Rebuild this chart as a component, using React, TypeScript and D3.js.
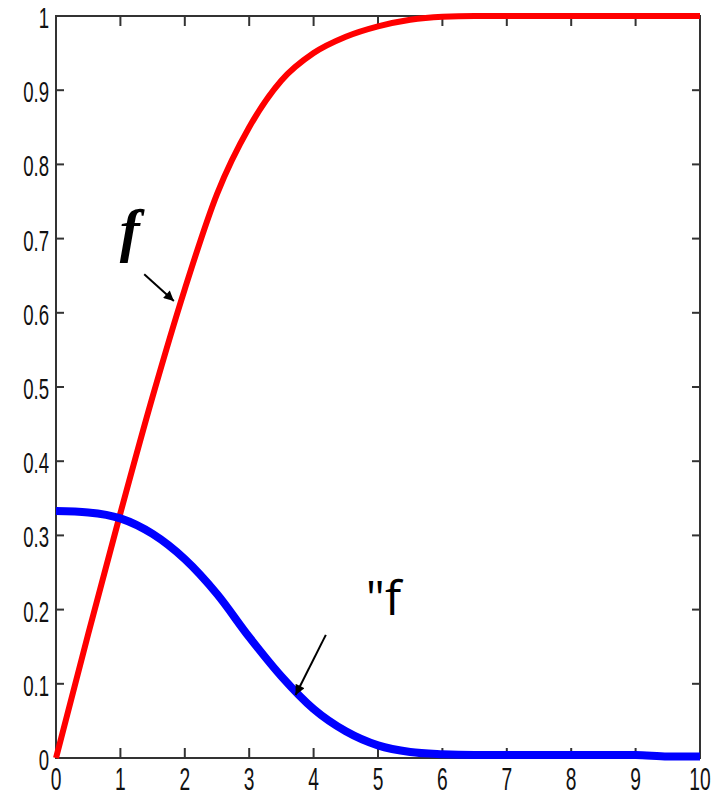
import * as d3 from "d3";

// values
const xs = [0, 0.5, 1, 1.5, 2, 2.5, 3, 3.5, 4, 4.5, 5, 5.5, 6, 6.5, 7, 8, 9, 9.5, 10];
const fValues = [0, 0.167, 0.33, 0.487, 0.632, 0.76, 0.85, 0.913, 0.95, 0.972, 0.986, 0.995, 0.999, 1, 1, 1, 1, 1, 1];
const fppValues = [0.333, 0.331, 0.323, 0.302, 0.268, 0.221, 0.163, 0.11, 0.066, 0.036, 0.017, 0.008, 0.005, 0.004, 0.004, 0.004, 0.004, 0.002, 0.002];

const xTicks = [0, 1, 2, 3, 4, 5, 6, 7, 8, 9, 10];
const yTicks = [0, 0.1, 0.2, 0.3, 0.4, 0.5, 0.6, 0.7, 0.8, 0.9, 1];

const width = 721;
const height = 796;
const left = 56;
const right = 700;
const top = 16;
const bottom = 758;

export default function App() {
  const x = d3.scaleLinear().domain([0, 10]).range([left, right]);
  const y = d3.scaleLinear().domain([0, 1]).range([bottom, top]);

  const line = d3
    .line<number>()
    .x((_, i) => x(xs[i]))
    .y((d) => y(d))
    .curve(d3.curveMonotoneX);

  const labelFont = "'Liberation Sans', Arial, sans-serif";
  const squeeze = 0.62;

  return (
    <svg
      width={width}
      height={height}
      style={{ position: "absolute", left: 0, top: 0, background: "#fff" }}
    >
      <defs>
        <marker
          id="head"
          viewBox="0 0 10 10"
          refX="10"
          refY="5"
          markerWidth="12"
          markerHeight="10"
          markerUnits="userSpaceOnUse"
          orient="auto"
        >
          <path d="M0,0 L10,5 L0,10 z" fill="#000" />
        </marker>
      </defs>

      {/* box */}
      <rect
        x={left}
        y={top}
        width={right - left}
        height={bottom - top}
        fill="none"
        stroke="#333"
        strokeWidth={2}
      />

      {/* x ticks, top and bottom, pointing in */}
      {xTicks.map((t) => (
        <g key={"x" + t}>
          <line x1={x(t)} x2={x(t)} y1={bottom} y2={bottom - 10} stroke="#333" strokeWidth={2} />
          <line x1={x(t)} x2={x(t)} y1={top} y2={top + 10} stroke="#333" strokeWidth={2} />
          <text
            transform={`translate(${x(t)},${bottom + 32}) scale(${squeeze},1)`}
            textAnchor="middle"
            fontFamily={labelFont}
            fontSize={31}
            fill="#111"
          >
            {t}
          </text>
        </g>
      ))}

      {/* y ticks, left and right */}
      {yTicks.map((t) => (
        <g key={"y" + t}>
          <line x1={left} x2={left + 8} y1={y(t)} y2={y(t)} stroke="#333" strokeWidth={2} />
          <line x1={right} x2={right - 8} y1={y(t)} y2={y(t)} stroke="#333" strokeWidth={2} />
          <text
            transform={`translate(${left - 7},${y(t) + 12}) scale(${squeeze},1)`}
            textAnchor="end"
            fontFamily={labelFont}
            fontSize={30}
            fill="#111"
          >
            {t}
          </text>
        </g>
      ))}

      {/* curves */}
      <path d={line(fValues) ?? ""} fill="none" stroke="#ff0000" strokeWidth={6} />
      <path d={line(fppValues) ?? ""} fill="none" stroke="#0000ff" strokeWidth={8} />

      {/* annotations */}
      <text
        x={x(0.99)}
        y={y(0.685)}
        fontFamily="'Liberation Serif', 'Times New Roman', serif"
        fontStyle="italic"
        fontWeight="bold"
        fontSize={60}
        fill="#000"
      >
        f
      </text>
      <line
        x1={x(1.37)}
        y1={y(0.652)}
        x2={x(1.83)}
        y2={y(0.616)}
        stroke="#000"
        strokeWidth={2}
        markerEnd="url(#head)"
      />
      <text
        x={x(4.81)}
        y={y(0.193)}
        fontFamily="'Open Sans', sans-serif"
        fontSize={48}
        fill="#000"
      >
        "f
      </text>
      <line
        x1={x(4.19)}
        y1={y(0.166)}
        x2={x(3.72)}
        y2={y(0.085)}
        stroke="#000"
        strokeWidth={2}
        markerEnd="url(#head)"
      />
    </svg>
  );
}
